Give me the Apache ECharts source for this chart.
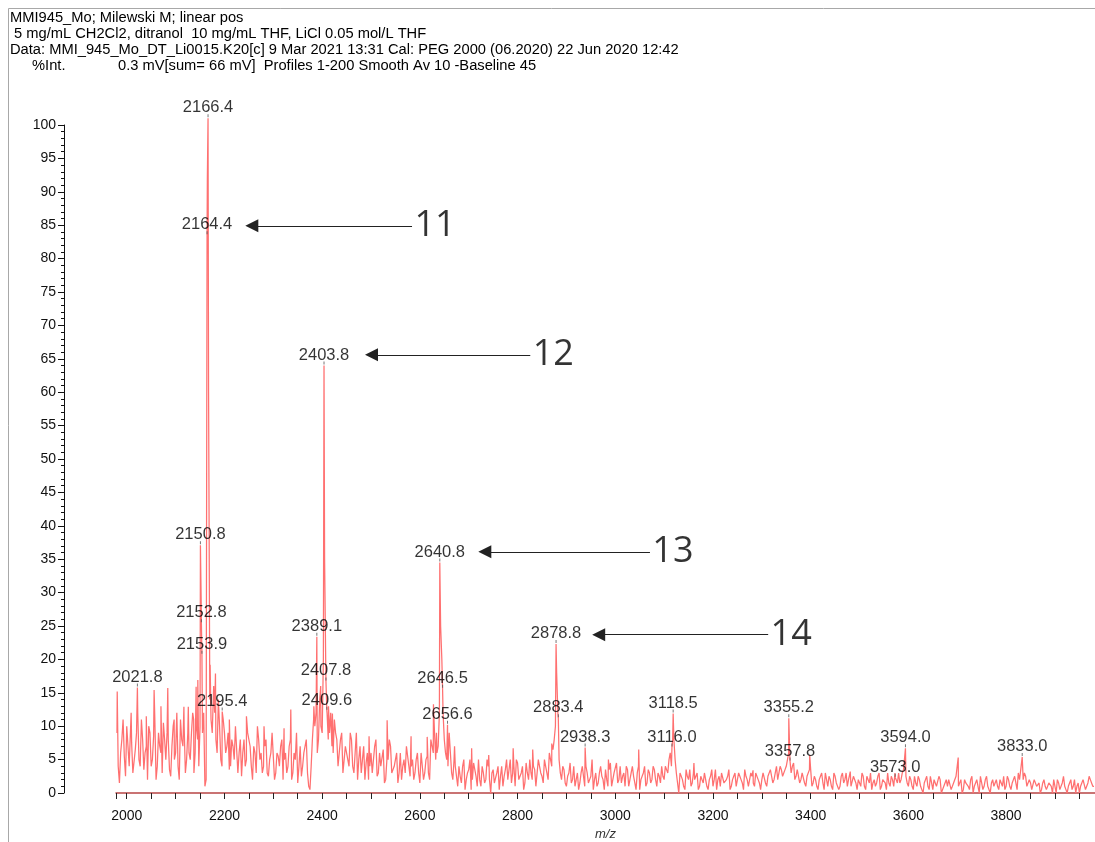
<!DOCTYPE html>
<html><head><meta charset="utf-8">
<script src="https://cdn.jsdelivr.net/npm/echarts@6/dist/echarts.min.js"></script>
<style>html,body{margin:0;padding:0;background:#fff}#c{width:1095px;height:842px}</style>
</head><body><div id="c"></div>
<script>
// ---------- header text ----------
const headerLines = [
  'MMI945_Mo; Milewski M; linear pos',
  '5 mg/mL CH2Cl2, ditranol  10 mg/mL THF, LiCl 0.05 mol/L THF',
  'Data: MMI_945_Mo_DT_Li0015.K20[c] 9 Mar 2021 13:31 Cal: PEG 2000 (06.2020) 22 Jun 2020 12:42'
];
const headerYLabel = '%Int.';
const headerInfo = '0.3 mV[sum= 66 mV]  Profiles 1-200 Smooth Av 10 -Baseline 45';

// ---------- axis ticks ----------
const xTickLabels = ['2000','2200','2400','2600','2800','3000','3200','3400','3600','3800'];
const yTickLabels = ['0','5','10','15','20','25','30','35','40','45','50','55','60','65','70','75','80','85','90','95','100'];
const xTitle = 'm/z';

// ---------- spectrum: baseline noise, read every 5 m/z from 1980 ----------
const noiseStart = 1980, noiseStep = 5;
const noiseInt = [
  9, 1.5, 8, 5.5, 10, 4, 7.5, 3, 9, 5, 11, 3.5, 7, 10, 4, 8.5, 2, 9, 6, 10.5,
  5, 8, 2.5, 10, 6, 4, 11, 7, 3, 9, 5, 12, 6, 8, 10, 9, 1, 92, 14, 9,
  12, 6, 10, 4, 9, 7, 3.5, 8, 5, 10, 6, 2.5, 8, 5, 9, 4, 7, 3, 8, 6,
  4, 8, 2.5, 6, 9, 3, 5.5, 7, 2, 6, 4, 8, 3, 5, 1.5, 7, 4, 6, 3, 0.5,
  8, 10, 6, 14, 9, 35, 12, 9, 7, 11, 8, 6, 9, 5, 7, 4, 8, 3, 6, 5,
  3, 7, 4.5, 2, 6, 5, 8, 3, 4, 6.5, 2, 5, 7, 3.5, 5, 1.5, 6, 4, 3, 7,
  2.5, 5, 3, 6, 1.5, 4, 3, 5.5, 2, 7, 9, 6, 12, 20, 8, 5, 9, 3, 5, 2.5,
  4, 1.5, 5, 2, 3.5, 0.5, 4.5, 2.5, 5, 1, 3, 2, 4, 0, 3.5, 1.5, 4, 2.5, 1, 3.5,
  2, 5, 3, 1, 4.5, 2.5, 4, 1.5, 3, 5, 2, 3.5, 1, 4, 2.5, 5, 3, 6, 4, 8,
  18, 5, 2, 3.5, 1, 3, 1.5, 4, 2, 0.5, 3, 2.5, 4, 1.5, 2.5, 0.5, 3, 1.5, 4, 2,
  3.5, 1, 4.5, 2, 3, 1.5, 4, 2.5, 1, 3.5, 2, 4, 1.5, 3, 0.5, 2.5, 4, 1.5, 3, 2,
  3.5, 1, 2.5, 4, 2, 3.5, 5, 4, 8, 3, 0, 2.5, 1, 3.5, 2, 1, 3, 2, 0.5, 2.5,
  1.5, 3, 0.5, 2.5, 1, 3.5, 2, 1, 3, 1.5, 2.5, 0.5, 2, 3, 1, 2.5, 1.5, 3.5, 2, 1,
  2.5, 1, 3, 1.5, 2, 3, 1, 2.5, 3.5, 2, 4, 3, 3.5, 2.5, 4, 6, 3, 4.5, 2.5, 3.5,
  2, 3, 1, 2.5, 3.5, 1.5, 2, 0.5, 2.5, 1.5, 3, 1, 2, 0.5, 2.5, 1.5, 1, 3, 2, 1,
  2, 1, 2.5, 0.5, 2, 3, 1, 2.5, 1.5, 0.5, 2, 1.5, 3, 1, 2, 0.5, 1.5, 2.5, 1, 2,
  3, 2, 3.5, 2.5, 1, 2, 0.5, 1.5, 2.5, 1, 0, 2, 1, 2.5, 0.5, 1.5, 1, 2, 0.5, 1.5,
  1, 2, 0.5, 1.5, 2.5, 1, 0, 2, 1.5, 0.5, 2.5, 1, 2, 0, 1.5, 1, 2.5, 0.5, 1.5, 1,
  2, 0.5, 1.5, 2.5, 1, 2, 0.5, 2, 1.5, 3, 3.5, 2, 2.5, 1, 1.5, 0.5, 2, 1, 0, 1.5,
  1, 0.5, 1.5, 0, 1, 2, 0.5, 1.5, 1, 0, 1.5, 0.5, 2, 1, 0, 1.5, 2, 1, 2.5, 1.5,
  1
];
// in-between readings, every 5 m/z from 1982.5
const noise2Start = 1982.5;
const noiseInt2 = [
  4, 6, 11, 2.5, 7, 9, 3, 6.5, 12, 4, 8, 6, 2, 9, 5, 11, 4, 7, 3, 8,
  9, 3.5, 7, 5, 12, 2, 8, 10, 5, 6, 9, 3, 10, 4, 28, 12, 2, 60, 11, 15,
  8, 14, 5, 11, 6, 9, 4, 7, 10, 3, 8, 6, 4, 9, 7, 2, 6, 10, 5, 3,
  7, 3, 5, 9, 2, 6, 4, 8, 5, 3, 7, 2, 6, 9, 4, 2.5, 6, 8, 1, 4,
  11, 12, 8, 10, 20, 18, 8, 12, 6, 9, 4, 8, 3, 7, 5, 9, 4, 6, 2, 7,
  5, 2, 6, 4, 3, 7, 2.5, 6, 4, 1.5, 5, 8, 3, 4, 6, 3, 2, 5, 7, 4,
  4, 2, 5, 3, 6, 2, 5, 3, 8, 6, 5, 7, 25, 12, 6, 4, 6, 2, 4, 1,
  2.5, 4, 0.5, 3, 5, 2, 3.5, 1, 2, 4, 1.5, 5, 2, 3, 1.5, 3, 0.5, 4, 2.5, 5,
  3.5, 1.5, 4, 5, 2, 3, 0.5, 4.5, 2, 3, 4, 1, 5, 3, 1.5, 4, 2, 5, 6.5, 10,
  12, 3, 4, 1.5, 2.5, 4.5, 2, 1, 3, 1.5, 4, 1, 3, 2, 5, 2, 1, 3, 2.5, 0.5,
  2, 3.5, 1, 3, 4.5, 2, 1.5, 3, 4, 1, 3, 2.5, 0.5, 4, 2, 3, 1, 3.5, 1.5, 4,
  2, 3, 1.5, 2.5, 4, 3, 6, 8, 5, 1.5, 3, 2, 0.5, 2.5, 3.5, 1.5, 2, 3, 1, 2,
  3, 1, 2, 3.5, 2, 0.5, 2.5, 3, 1.5, 2, 3.5, 1, 2.5, 1, 3, 2, 0.5, 2.5, 1, 3,
  1.5, 3, 2, 0.5, 3, 1.5, 2.5, 3.5, 1.5, 3, 2, 4, 2.5, 3.5, 5, 5, 4, 2, 3.5, 1.5,
  3, 1.5, 2.5, 3.5, 1, 2.5, 1, 2, 3, 0.5, 2, 2.5, 1, 3, 1.5, 0.5, 2.5, 1.5, 3, 2,
  1, 2.5, 1.5, 2, 1, 2.5, 0.5, 2, 3, 1.5, 1, 2.5, 0.5, 2, 1.5, 3, 1, 2, 3, 1.5,
  1.5, 3, 3.5, 1.5, 2.5, 1, 2.5, 1, 2, 0.5, 1.5, 2.5, 0.5, 1.5, 2, 1, 2.5, 0, 1, 2,
  2, 0.5, 1.5, 2.5, 1, 2, 0.5, 1.5, 1, 2, 0, 1.5, 1, 2.5, 0.5, 2, 1, 0, 2, 1.5,
  1, 2, 1, 0.5, 2.5, 1, 1.5, 2.5, 0.5, 2, 3.5, 3, 1, 2, 0.5, 2, 1, 1.5, 0.5, 2,
  0.5, 1.5, 1, 2, 0, 1.5, 1, 2.5, 0.5, 1, 2, 1, 0, 1.5, 1, 2, 0.5, 1.5, 2, 1
];

// unlabeled spikes
const spikeMz  = [1980.5, 2009, 2040, 2056, 2070, 2084, 2097, 2117, 2126, 2137, 2142, 2145.5, 2170.7, 2178, 2181.6, 2188,
                  2210, 2245, 2281, 2322, 2335.8, 2383, 2397, 2413, 2421, 2470, 2496, 2533, 2582, 2615, 2627.8, 2634,
                  2671, 2706, 2741, 2791, 2831, 2870, 2986, 3048, 3111, 3161, 3282, 3398, 3481, 3702];
const spikeInt = [15.2, 12, 11.5, 15.4, 13, 15.7, 11, 12.9, 12.9, 11, 15.9, 16.9, 19.2, 16, 17.9, 14,
                  11, 11.5, 10, 9.7, 12.5, 13, 16, 13, 11.9, 9, 8.5, 10.9, 8.5, 8.4, 13.3, 9,
                  7, 6.7, 5.7, 6.7, 6.5, 7.4, 5, 6.5, 5, 4.5, 3.4, 5.7, 3.2, 5.3];

// labeled peaks
const peakLabels = ['2021.8','2150.8','2152.8','2153.9','2164.4','2166.4','2195.4','2389.1','2403.8','2407.8','2409.6',
                    '2640.8','2646.5','2656.6','2878.8','2883.4','2938.3','3116.0','3118.5','3355.2','3357.8','3573.0','3594.0','3833.0'];
const peakInt    = [15.8, 37.1, 25.4, 20.7, 83.5, 101, 12.2, 23.4, 64, 16.7, 12.3,
                    34.5, 15.6, 10.2, 22.3, 11.2, 6.8, 6.8, 11.9, 11.2, 4.7, 2.3, 6.7, 5.4];

// oligomer annotations (arrows)
const arrowNames  = ['11', '12', '13', '14'];
const arrowInt    = [84.9, 65.6, 36.1, 23.7];
const arrowFromMz = [2584, 2826, 3071, 3313];
const arrowToMz   = [2256, 2501, 2733, 2966];
const arrowNumMz  = [2631, 2873, 3118, 3360];

// ---------- build ----------
const linePts = [];
noiseInt.forEach((v, i) => linePts.push([noiseStart + i * noiseStep, v]));
noiseInt2.forEach((v, i) => linePts.push([noise2Start + i * noiseStep, v]));
spikeMz.forEach((m, i) => linePts.push([m, spikeInt[i]]));
peakLabels.forEach((t, i) => linePts.push([parseFloat(t), peakInt[i]]));
linePts.sort((a, b) => a[0] - b[0]);

const labelPts = peakLabels.map((t, i) => ({ value: [parseFloat(t), peakInt[i]], name: t }));
const arrowLines = arrowNames.map((n, i) => [
  { coord: [arrowFromMz[i], arrowInt[i]], symbol: 'none' },
  { coord: [arrowToMz[i], arrowInt[i]], symbol: 'triangle', symbolSize: 13 }
]);
const arrowNums = arrowNames.map((n, i) => ({ value: [arrowNumMz[i], arrowInt[i]], name: n }));

const FONT = '"Liberation Sans", Arial, sans-serif';
const chart = echarts.init(document.getElementById('c'), null, { renderer: 'canvas' });

const graphics = [
  { type: 'polyline', shape: { points: [[8.5, 842], [8.5, 8.5], [1095, 8.5]] }, style: { stroke: '#a8a8a8', lineWidth: 1, fill: null }, silent: true }
];
const headerX = [10, 14, 10];
headerLines.forEach((t, i) => graphics.push({
  type: 'text', x: headerX[i], y: 18 + i * 16,
  style: { text: t, fontSize: 14.7, fontFamily: FONT, fill: '#000', verticalAlign: 'middle' }
}));
graphics.push({ type: 'text', x: 32, y: 66, style: { text: headerYLabel, fontSize: 14.7, fontFamily: FONT, fill: '#000', verticalAlign: 'middle' } });
graphics.push({ type: 'text', x: 118, y: 66, style: { text: headerInfo, fontSize: 14.7, fontFamily: FONT, fill: '#000', verticalAlign: 'middle' } });

chart.setOption({
  animation: false,
  backgroundColor: '#fff',
  grid: { left: 116, right: 0, top: 125, bottom: 49, containLabel: false, outerBoundsMode: 'none' },
  xAxis: {
    type: 'value', min: 1978, max: 3982, splitNumber: 40, offset: 8,
    axisLine: { show: true, lineStyle: { color: '#b84545', width: 1.5 } },
    axisTick: { show: true, length: 6, lineStyle: { color: '#222' } },
    axisLabel: {
      interval: 0, margin: 8, fontSize: 14, fontFamily: FONT, color: '#111',
      formatter: v => { const s = String(Math.round(v)); return (Math.abs(v - Math.round(v)) < 1e-6 && xTickLabels.includes(s)) ? s : ''; }
    },
    splitLine: { show: false },
    name: xTitle, nameLocation: 'middle', nameGap: 27,
    nameTextStyle: { fontStyle: 'italic', fontSize: 13, fontFamily: FONT, color: '#333' }
  },
  yAxis: {
    type: 'value', min: 0, max: 100, interval: 5, offset: 52,
    axisLine: { show: true, lineStyle: { color: '#111', width: 1 } },
    axisTick: { show: true, length: 6, lineStyle: { color: '#111' } },
    minorTick: { show: true, splitNumber: 5, length: 3, lineStyle: { color: '#111' } },
    axisLabel: {
      margin: 8, fontSize: 14, fontFamily: FONT, color: '#111',
      formatter: v => { const s = String(Math.round(v)); return yTickLabels.includes(s) ? s : ''; }
    },
    splitLine: { show: false }, minorSplitLine: { show: false }
  },
  graphic: graphics,
  series: [
    {
      type: 'line', data: linePts, showSymbol: false, symbol: 'none', clip: false,
      lineStyle: { color: '#ff7070', width: 1.25 }, z: 2,
      markLine: {
        silent: true, animation: false,
        lineStyle: { color: '#222', width: 1, type: 'solid' },
        itemStyle: { color: '#000' },
        label: { show: false },
        data: arrowLines
      }
    },
    {
      type: 'scatter', data: labelPts, clip: false,
      symbol: 'rect', symbolSize: [1, 3], symbolOffset: [0, -2.5],
      itemStyle: { color: '#555' },
      label: { show: true, position: 'top', distance: -2, formatter: p => p.name, fontSize: 16.5, fontFamily: FONT, color: '#000' },
      z: 5
    },
    {
      type: 'scatter', data: arrowNums, clip: false, symbolSize: 0,
      label: { show: true, position: 'inside', formatter: p => p.name, fontSize: 36, fontFamily: '"Open Sans", "Noto Sans", sans-serif', color: '#000' },
      z: 5
    }
  ]
});
</script>
</body></html>
